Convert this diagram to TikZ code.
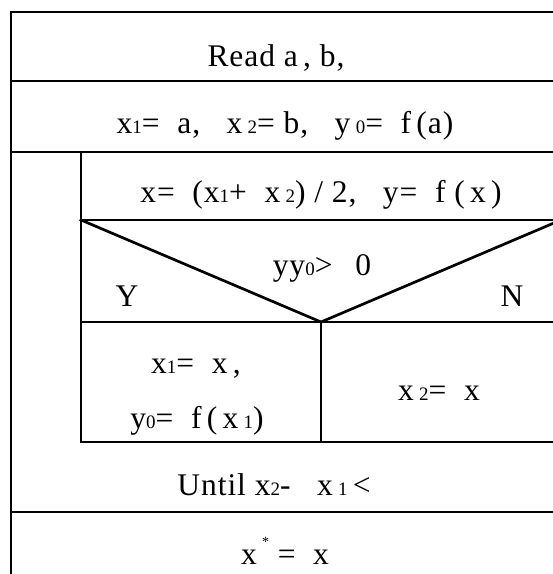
\documentclass[tikz,border=0pt]{standalone}
\usepackage{fontspec}
\setmainfont{Liberation Serif}[LetterSpace=3]
\usepackage{tikz}
\usetikzlibrary{positioning}

% small subscript digit, kept near the baseline
\newcommand{\sbx}[1]{{\fontsize{19}{19}\selectfont #1}}
\newcommand{\starup}{\raisebox{0.55em}{\fontsize{14}{14}\selectfont *}}

\tikzset{
  nsline/.style={line width=2.7pt, line cap=rect, line join=miter, color=black},
  nstext/.style={anchor=base, inner sep=0pt, font=\fontsize{31.5}{36}\selectfont}
}

\begin{document}
\begin{tikzpicture}[x=1pt, y=-1pt]
  % Frame of the page
  \clip (0,0) rectangle (553,574);
  \fill[white] (0,0) rectangle (553,574);

  % Outer blocks
  \draw[nsline] (11,590) -- (11,12) -- (570,12);
  \draw[nsline] (11,81) -- (570,81);
  \draw[nsline] (11,152) -- (570,152);
  \draw[nsline] (11,512) -- (570,512);

  % Loop body
  \draw[nsline] (81,152) -- (81,442) -- (570,442);
  \draw[nsline] (81,220) -- (570,220);
  \draw[nsline] (81,322) -- (570,322);

  % Decision
  \draw[nsline] (81,220) -- (321,322) -- (561,220);
  \draw[nsline] (321,322) -- (321,442);

  % Texts
  \node[nstext] (read) at (276,66) {Read a\,, b,};
  \node[nstext] (init) at (285,133)
    {x\sbx{1}= \ a,\ \ \ x\,\sbx{2}= b,\ \ \ y\,\sbx{0}= \ f\,(a)};
  \node[nstext] (mid) at (321,202)
    {x= \ (x\sbx{1}+ \ x\,\sbx{2})\ /\ 2,\ \ \ y= \ f\ (\,x\,)};
  \node[nstext] (cond) at (322,275) {yy\sbx{0}> \,\ 0};
  \node[nstext] (yes) at (127,306) {Y};
  \node[nstext] (no) at (512,306) {N};
  \node[nstext] (setlow) at (196,373) {x\sbx{1}= \ x\,,};
  \node[nstext] (setfun) at (197,428) {y\sbx{0}= \ f\,(\,x\,\sbx{1})};
  \node[nstext] (sethigh) at (439,400) {x\,\sbx{2}= \ x};
  \node[nstext] (until) at (274,495) {Until x\sbx{2}-\ \ \ x\,\sbx{1}\,<};
  \node[nstext] (result) at (285,564) {x\,\starup\ = \ x};
\end{tikzpicture}
\end{document}
